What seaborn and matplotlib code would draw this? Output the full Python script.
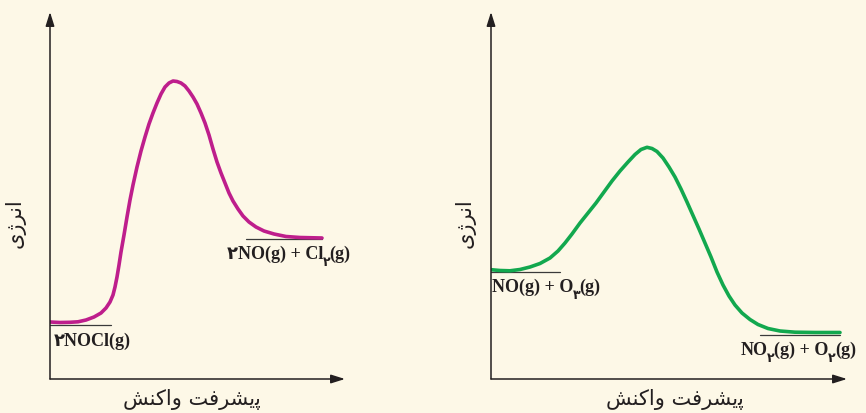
import matplotlib
matplotlib.use("Agg")
import seaborn as sns
import matplotlib.pyplot as plt
import pandas as pd

# reaction progress and energy (arbitrary units)
nocl_progress = [0, 10, 20, 28, 36, 44, 51, 56, 60, 63, 65, 67, 69, 71, 74, 77, 80, 83,
                 87, 91, 95, 99, 103, 107, 111, 115, 119, 123, 127, 131, 135, 139, 143,
                 147, 151, 155, 159, 163, 167, 171, 175, 179, 183, 188, 193, 199, 206,
                 214, 224, 236, 250, 272]
nocl_energy = [57, 56.5, 56.7, 57.2, 59, 62, 66, 71, 77, 84, 92, 102, 114, 127, 144, 162,
               179, 194, 212, 228, 242, 255, 266, 276, 285, 292, 296, 298, 297.5, 296,
               293, 288, 282, 275, 266, 256, 244, 230, 217, 206, 196, 186, 178, 170, 163,
               157, 152, 148, 145, 142.5, 141.5, 141]

no_o3_progress = [0, 9, 19, 29, 39, 49, 59, 67, 74, 81, 89, 97, 105, 113, 121, 129, 137,
                  144, 150, 156, 161, 166, 172, 178, 184, 190, 196, 202, 208, 214, 220,
                  226, 232, 238, 244, 251, 259, 267, 277, 289, 304, 324, 349]
no_o3_energy = [109.3, 108.5, 108.2, 109.5, 112, 115.5, 121, 128, 136, 145, 156, 166,
                176, 187, 198, 208, 217, 224.5, 229.5, 231.7, 230.5, 227.5, 221, 212,
                202, 190, 177, 163.5, 150, 136, 122, 107, 94, 83, 74, 66, 59.5, 54.5,
                50.5, 48, 46.8, 46.5, 46.5]

# energy levels of reactants / products: (x start, x end, energy)
nocl_levels = [(0, 61, 54), (196, 272, 140)]
no_o3_levels = [(0, 69, 107), (269, 349, 44)]

# chemical labels as (text, subscript) pieces
nocl_reactant = [("۲NOCl(g)", False)]
nocl_product = [("۲NO(g) + Cl", False), ("۲", True), ("(g)", False)]
no_o3_reactant = [("NO(g) + O", False), ("۳", True), ("(g)", False)]
no_o3_product = [("NO", False), ("۲", True), ("(g) + O", False), ("۲", True), ("(g)", False)]

# Persian axis titles (presentation forms, visual order)
energy_label = "\uFBFC\uFB8A\uFEAE\uFEE7\uFE8D"          # انرژی
progress_label = ("\uFEB6\uFEE8\uFB90\uFE8D\uFEED "
                  "\uFE96\uFED3\uFEAE\uFEB8\uFBFE\uFB58")  # پیشرفت واکنش

bg = "#FDF8E7"
ink = "#231F20"
chem_font = ["Liberation Serif", "DejaVu Sans"]

sns.set_theme(style="white")
plt.rcParams["font.family"] = ["DejaVu Sans"]

fig = plt.figure(figsize=(8.66, 4.14), dpi=100, facecolor=bg)
W, H = 866, 414


def chem_label(ax, x, y, parts, size=13):
    first = ax.text(x, y, parts[0][0], fontsize=size, fontweight="bold",
                    family=chem_font, color=ink, ha="left", va="bottom")
    prev = first
    for s, sub in parts[1:]:
        prev = ax.annotate(s, xy=(1, 0), xycoords=(prev, first),
                           xytext=(-0.5, -4 if sub else 0), textcoords="offset points",
                           fontsize=size * 0.7 if sub else size, fontweight="bold",
                           family=chem_font, color=ink, ha="left", va="bottom")


def panel(x0, x1, y0, y1, progress, energy, color, levels, labels, xlab_x, ylab_x):
    ax = fig.add_axes([x0 / W, (H - y0) / H, (x1 - x0) / W, (y0 - y1) / H])
    ax.set_facecolor("none")
    df = pd.DataFrame({"progress": progress, "energy": energy})
    sns.lineplot(data=df, x="progress", y="energy", sort=False, color=color,
                 linewidth=2.6, ax=ax, zorder=3)
    ax.lines[-1].set_solid_joinstyle("round")
    for xa, xb, e in levels:
        ax.plot([xa, xb], [e, e], color="#3a3a3a", linewidth=0.9, zorder=2)
    for (lx, ly, parts) in labels:
        chem_label(ax, lx, ly, parts)
    ax.set_xlim(0, x1 - x0)
    ax.set_ylim(0, y0 - y1)
    for sp in ax.spines.values():
        sp.set_visible(False)
    ax.set_xticks([])
    ax.set_yticks([])
    ax.set_xlabel("")
    ax.set_ylabel("")
    arrow = dict(arrowstyle="-|>,head_length=0.7,head_width=0.22", color=ink,
                 lw=1.1, shrinkA=0, shrinkB=0)
    ax.annotate("", xy=(0, 1), xytext=(0, 0), xycoords="axes fraction", arrowprops=arrow)
    ax.annotate("", xy=(1, 0), xytext=(0, 0), xycoords="axes fraction", arrowprops=arrow)
    fig.text(xlab_x / W, (H - 400) / H, progress_label, fontsize=15, color=ink,
             ha="center", va="center")
    fig.text(ylab_x / W, (H - 223) / H, energy_label, fontsize=15, color=ink,
             ha="center", va="center", rotation=90)
    return ax


panel(50, 345, 380, 13, nocl_progress, nocl_energy, "#BE1E8C", nocl_levels,
      [(4, 30, nocl_reactant), (177, 117, nocl_product)], 192, 15)
panel(491, 847, 380, 13, no_o3_progress, no_o3_energy, "#12A84E", no_o3_levels,
      [(1, 84, no_o3_reactant), (250, 21, no_o3_product)], 675, 465)

fig.savefig("out.png", dpi=100, facecolor=bg)
